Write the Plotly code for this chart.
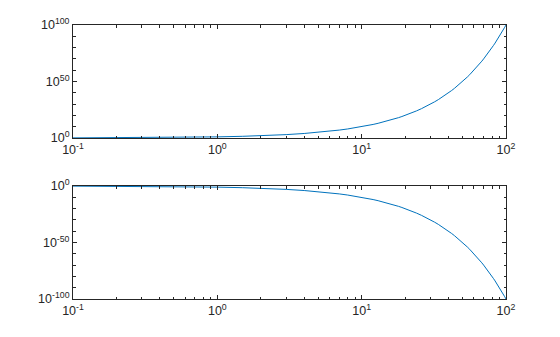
import plotly.graph_objects as go
from plotly.subplots import make_subplots

# Values
x_vals = [0.1, 0.15, 0.2, 0.3, 0.5, 0.7, 1, 1.5, 2, 2.5, 3, 4, 5, 6, 7, 8, 9,
          10, 11, 12, 13, 14, 15, 16, 17, 18, 19, 20, 22, 24, 26, 28, 30, 32,
          34, 36, 38, 40, 42, 44, 46, 48, 50, 52, 54, 56, 58, 60, 62, 64, 66,
          68, 70, 72, 74, 76, 78, 80, 82, 84, 86, 88, 90, 92, 94, 96, 98, 100]
y_top = [1.26, 1.41, 1.58, 2.0, 3.16, 5.01, 1e1, 3.16e1, 1e2, 3.16e2, 1e3,
         1e4, 1e5, 1e6, 1e7, 1e8, 1e9, 1e10, 1e11, 1e12, 1e13, 1e14, 1e15,
         1e16, 1e17, 1e18, 1e19, 1e20, 1e22, 1e24, 1e26, 1e28, 1e30, 1e32,
         1e34, 1e36, 1e38, 1e40, 1e42, 1e44, 1e46, 1e48, 1e50, 1e52, 1e54,
         1e56, 1e58, 1e60, 1e62, 1e64, 1e66, 1e68, 1e70, 1e72, 1e74, 1e76,
         1e78, 1e80, 1e82, 1e84, 1e86, 1e88, 1e90, 1e92, 1e94, 1e96, 1e98,
         1e100]
y_bottom = [0.794, 0.708, 0.631, 0.501, 0.316, 0.200, 1e-1, 3.16e-2, 1e-2,
            3.16e-3, 1e-3, 1e-4, 1e-5, 1e-6, 1e-7, 1e-8, 1e-9, 1e-10, 1e-11,
            1e-12, 1e-13, 1e-14, 1e-15, 1e-16, 1e-17, 1e-18, 1e-19, 1e-20,
            1e-22, 1e-24, 1e-26, 1e-28, 1e-30, 1e-32, 1e-34, 1e-36, 1e-38,
            1e-40, 1e-42, 1e-44, 1e-46, 1e-48, 1e-50, 1e-52, 1e-54, 1e-56,
            1e-58, 1e-60, 1e-62, 1e-64, 1e-66, 1e-68, 1e-70, 1e-72, 1e-74,
            1e-76, 1e-78, 1e-80, 1e-82, 1e-84, 1e-86, 1e-88, 1e-90, 1e-92,
            1e-94, 1e-96, 1e-98, 1e-100]

x_ticks = [0.1, 1, 10, 100]
x_ticktext = ["10<sup>-1</sup>", "10<sup>0</sup>", "10<sup>1</sup>", "10<sup>2</sup>"]
x_minor = [m * d for d in [0.1, 1, 10] for m in range(2, 10)]

top_ticks = [1, 1e50, 1e100]
top_ticktext = ["10<sup>0</sup>", "10<sup>50</sup>", "10<sup>100</sup>"]
top_minor = [10.0 ** k for k in range(10, 100, 10)]

bot_ticks = [1e-100, 1e-50, 1]
bot_ticktext = ["10<sup>-100</sup>", "10<sup>-50</sup>", "10<sup>0</sup>"]
bot_minor = [10.0 ** (-k) for k in range(10, 100, 10)]

line_color = "#0072BD"
axis_color = "#262626"

W, H = 560, 337
ml, mr, mt, mb = 73, 54, 25, 38
ph = H - mt - mb

fig = make_subplots(rows=2, cols=1)
fig.add_trace(go.Scatter(x=x_vals, y=y_top, mode="lines",
                         line=dict(color=line_color, width=1)), row=1, col=1)
fig.add_trace(go.Scatter(x=x_vals, y=y_bottom, mode="lines",
                         line=dict(color=line_color, width=1)), row=2, col=1)

common_axis = dict(
    showline=True, linecolor=axis_color, linewidth=1, mirror="ticks",
    ticks="inside", ticklen=4, tickcolor=axis_color, tickwidth=1,
    showgrid=False, zeroline=False,
    tickfont=dict(family="Liberation Sans, Arial, sans-serif", size=12.5, color=axis_color),
)

top_dom = [(H - mb - 138) / ph, 1.0]
bot_dom = [0.0, (H - mb - 186) / ph]

minor_style = dict(ticks="inside", ticklen=2.5, tickcolor=axis_color, showgrid=False)

fig.update_xaxes(type="log", range=[-1, 2], tickmode="array", tickvals=x_ticks,
                 ticktext=x_ticktext,
                 minor=dict(tickmode="array", tickvals=x_minor, **minor_style),
                 **common_axis)
fig.update_yaxes(type="log", range=[0, 100], tickmode="array", tickvals=top_ticks,
                 ticktext=top_ticktext, domain=top_dom,
                 minor=dict(tickmode="array", tickvals=top_minor, **minor_style),
                 row=1, col=1, **common_axis)
fig.update_yaxes(type="log", range=[-100, 0], tickmode="array", tickvals=bot_ticks,
                 ticktext=bot_ticktext, domain=bot_dom,
                 minor=dict(tickmode="array", tickvals=bot_minor, **minor_style),
                 row=2, col=1, **common_axis)

fig.update_layout(
    width=W, height=H,
    margin=dict(l=ml, r=mr, t=mt, b=mb),
    showlegend=False,
    plot_bgcolor="white", paper_bgcolor="white",
)

fig.write_html("out.html")
